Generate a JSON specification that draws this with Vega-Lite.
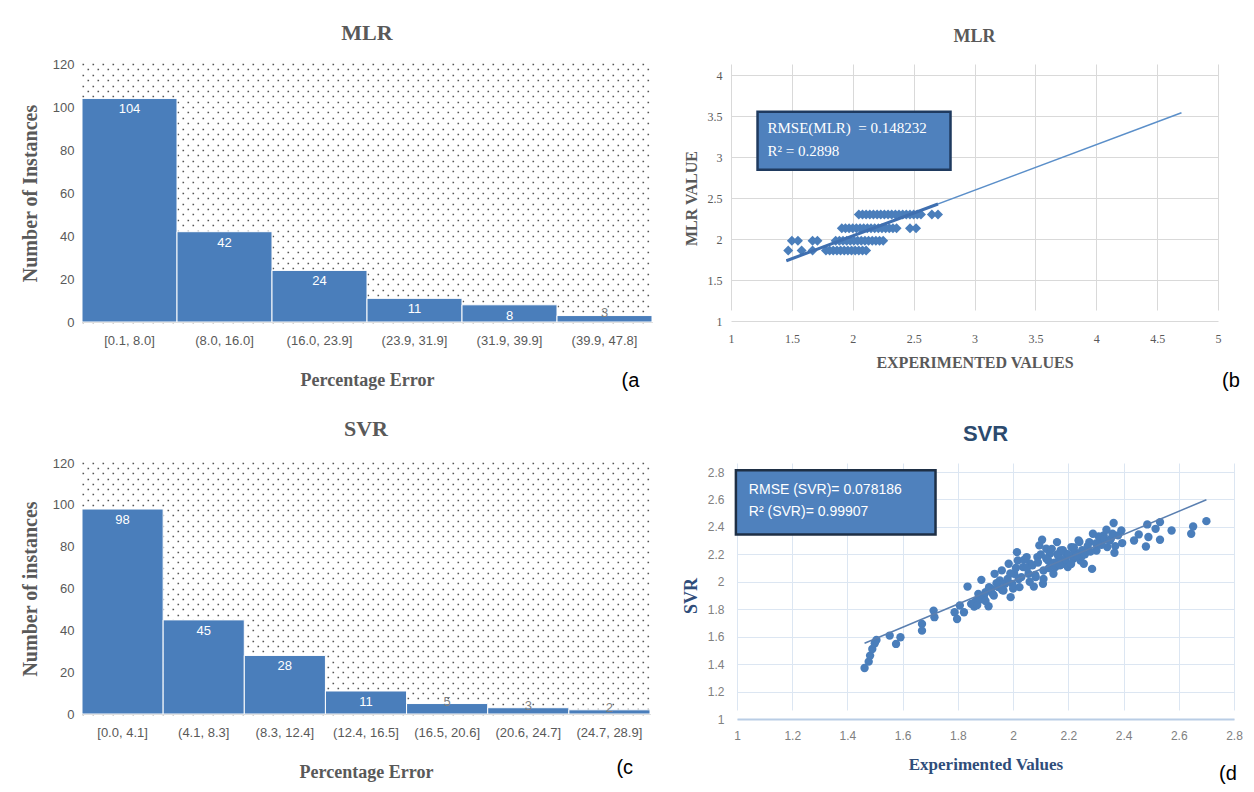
{
  "$schema": "https://vega.github.io/schema/vega-lite/v6.json",
  "padding": {"left": 20, "top": 22, "right": 0, "bottom": 0},
  "background": "white",
  "config": {"view": {"stroke": null}},
  "datasets": {
    "mlr_fit": [{"experimented": 1.455, "predicted": 1.735}, {"experimented": 4.70, "predicted": 3.54}],
    "svr_fit": [{"experimented": 1.462, "predicted": 1.552}, {"experimented": 2.70, "predicted": 2.598}]
  },
  "spacing": 26,
  "vconcat": [
    {
      "spacing": 30,
      "hconcat": [
        {
          "width": 570,
          "height": 258,
          "title": {"text": "MLR", "font": "Liberation Serif", "fontSize": 22, "fontWeight": "bold", "color": "#595959", "offset": 13},
          "data": {"values": [
            {"bin": "[0.1, 8.0]", "count": 104},
            {"bin": "(8.0, 16.0]", "count": 42},
            {"bin": "(16.0, 23.9]", "count": 24},
            {"bin": "(23.9, 31.9]", "count": 11},
            {"bin": "(31.9, 39.9]", "count": 8},
            {"bin": "(39.9, 47.8]", "count": 3}
          ]},
          "encoding": {
            "x": {"field": "bin", "type": "nominal", "sort": null,
              "scale": {"paddingInner": 0, "paddingOuter": 0},
              "axis": {"title": "Percentage Error", "labelAngle": 0, "labelFont": "Liberation Sans", "labelFontSize": 13, "labelColor": "#595959", "labelPadding": 12, "ticks": false, "domainColor": "#c0c0c0", "grid": false, "titleFont": "Liberation Serif", "titleFontSize": 18, "titleFontWeight": "bold", "titleColor": "#595959", "titlePadding": 24}},
            "y": {"field": "count", "type": "quantitative",
              "scale": {"domain": [0, 120], "nice": false},
              "axis": {"values": [0,2.5,5,7.5,10,12.5,15,17.5,20,22.5,25,27.5,30,32.5,35,37.5,40,42.5,45,47.5,50,52.5,55,57.5,60,62.5,65,67.5,70,72.5,75,77.5,80,82.5,85,87.5,90,92.5,95,97.5,100,102.5,105,107.5,110,112.5,115,117.5,120],
                "labelExpr": "datum.value % 20 === 0 ? datum.label : ''", "labelOverlap": false,
                "labelFont": "Liberation Sans", "labelFontSize": 13, "labelColor": "#595959", "labelPadding": 8,
                "ticks": false, "domain": false, "grid": true, "gridColor": "#555555", "gridWidth": 1.6, "gridDash": [1.6, 8.4],
                "gridDashOffset": {"condition": {"test": "datum.value % 5 === 0", "value": 0}, "value": 5},
                "title": "Number of Instances", "titleFont": "Liberation Serif", "titleFontSize": 20, "titleFontWeight": "bold", "titleColor": "#595959", "titlePadding": 12}}
          },
          "layer": [
            {"mark": {"type": "bar", "color": "#4a7ebb", "stroke": "white", "strokeWidth": 1}},
            {"transform": [{"filter": "datum.count >= 6"}],
             "mark": {"type": "text", "baseline": "top", "dy": 5, "color": "white", "font": "Liberation Sans", "fontSize": 13},
             "encoding": {"text": {"field": "count", "type": "quantitative"}}},
            {"transform": [{"filter": "datum.count < 6"}],
             "mark": {"type": "text", "baseline": "top", "dy": -9, "color": "#7f7f7f", "font": "Liberation Sans", "fontSize": 13},
             "encoding": {"text": {"field": "count", "type": "quantitative"}}},
            {"transform": [{"filter": "datum.count === 3"}],
             "mark": {"type": "text", "text": "(a", "align": "left", "baseline": "middle", "dx": 17, "font": "Liberation Sans", "fontSize": 20, "color": "#000000"},
             "encoding": {"y": {"datum": -27.5, "type": "quantitative"}}}
          ]
        },
        {
          "width": 487,
          "height": 257,
          "title": {"text": "MLR", "font": "Liberation Serif", "fontSize": 18, "fontWeight": "bold", "color": "#595959", "offset": 18},
          "encoding": {
            "x": {"field": "experimented", "type": "quantitative", "scale": {"domain": [1, 5], "nice": false, "zero": false},
              "axis": {"values": [1,1.5,2,2.5,3,3.5,4,4.5,5], "format": "~g", "title": "EXPERIMENTED VALUES", "grid": true, "gridColor": "#d9d9d9", "domain": false, "ticks": false, "labelFlush": false, "labelFont": "Liberation Serif", "labelFontSize": 12, "labelColor": "#595959", "labelPadding": 12, "titleFont": "Liberation Serif", "titleFontSize": 16, "titleFontWeight": "bold", "titleColor": "#595959", "titlePadding": 10}},
            "y": {"field": "predicted", "type": "quantitative", "scale": {"domain": [1, 4], "nice": false, "zero": false, "range": [257, 11]},
              "axis": {"values": [1,1.5,2,2.5,3,3.5,4], "format": "~g", "title": "MLR VALUE", "grid": true, "gridColor": "#d9d9d9", "domain": false, "ticks": false, "labelFont": "Liberation Serif", "labelFontSize": 12, "labelColor": "#595959", "labelPadding": 9, "titleFont": "Liberation Serif", "titleFontSize": 16, "titleFontWeight": "bold", "titleColor": "#595959", "titlePadding": 8}}
          },
          "layer": [
            {"data": {"values": [
              {"experimented": 2.05, "predicted": 2.30}, {"experimented": 2.08, "predicted": 2.30}, {"experimented": 2.11, "predicted": 2.30}, {"experimented": 2.14, "predicted": 2.30}, {"experimented": 2.17, "predicted": 2.30}, {"experimented": 2.20, "predicted": 2.30}, {"experimented": 2.23, "predicted": 2.30}, {"experimented": 2.26, "predicted": 2.30}, {"experimented": 2.29, "predicted": 2.30}, {"experimented": 2.32, "predicted": 2.30}, {"experimented": 2.35, "predicted": 2.30}, {"experimented": 2.38, "predicted": 2.30}, {"experimented": 2.41, "predicted": 2.30}, {"experimented": 2.44, "predicted": 2.30}, {"experimented": 2.47, "predicted": 2.30}, {"experimented": 2.50, "predicted": 2.30}, {"experimented": 2.53, "predicted": 2.30}, {"experimented": 2.56, "predicted": 2.30}, {"experimented": 2.65, "predicted": 2.30}, {"experimented": 2.70, "predicted": 2.30},
              {"experimented": 1.91, "predicted": 2.13}, {"experimented": 1.94, "predicted": 2.13}, {"experimented": 1.97, "predicted": 2.13}, {"experimented": 2.00, "predicted": 2.13}, {"experimented": 2.03, "predicted": 2.13}, {"experimented": 2.06, "predicted": 2.13}, {"experimented": 2.09, "predicted": 2.13}, {"experimented": 2.12, "predicted": 2.13}, {"experimented": 2.15, "predicted": 2.13}, {"experimented": 2.18, "predicted": 2.13}, {"experimented": 2.21, "predicted": 2.13}, {"experimented": 2.24, "predicted": 2.13}, {"experimented": 2.27, "predicted": 2.13}, {"experimented": 2.30, "predicted": 2.13}, {"experimented": 2.33, "predicted": 2.13}, {"experimented": 2.36, "predicted": 2.13}, {"experimented": 2.47, "predicted": 2.13}, {"experimented": 2.52, "predicted": 2.13},
              {"experimented": 1.50, "predicted": 1.98}, {"experimented": 1.55, "predicted": 1.98}, {"experimented": 1.67, "predicted": 1.98}, {"experimented": 1.71, "predicted": 1.98}, {"experimented": 1.86, "predicted": 1.98}, {"experimented": 1.89, "predicted": 1.98}, {"experimented": 1.92, "predicted": 1.98}, {"experimented": 1.95, "predicted": 1.98}, {"experimented": 1.98, "predicted": 1.98}, {"experimented": 2.01, "predicted": 1.98}, {"experimented": 2.04, "predicted": 1.98}, {"experimented": 2.07, "predicted": 1.98}, {"experimented": 2.10, "predicted": 1.98}, {"experimented": 2.13, "predicted": 1.98}, {"experimented": 2.16, "predicted": 1.98}, {"experimented": 2.19, "predicted": 1.98}, {"experimented": 2.22, "predicted": 1.98}, {"experimented": 2.25, "predicted": 1.98},
              {"experimented": 1.47, "predicted": 1.86}, {"experimented": 1.58, "predicted": 1.86}, {"experimented": 1.67, "predicted": 1.86}, {"experimented": 1.78, "predicted": 1.86}, {"experimented": 1.81, "predicted": 1.86}, {"experimented": 1.84, "predicted": 1.86}, {"experimented": 1.87, "predicted": 1.86}, {"experimented": 1.90, "predicted": 1.86}, {"experimented": 1.93, "predicted": 1.86}, {"experimented": 1.96, "predicted": 1.86}, {"experimented": 1.99, "predicted": 1.86}, {"experimented": 2.02, "predicted": 1.86}, {"experimented": 2.05, "predicted": 1.86}, {"experimented": 2.08, "predicted": 1.86}, {"experimented": 2.11, "predicted": 1.86}
             ]},
             "mark": {"type": "point", "shape": "diamond", "filled": true, "color": "#4a7ebb", "opacity": 1, "size": 100}},
            {"data": {"name": "mlr_fit"},
             "mark": {"type": "line", "color": "#5b8fc9", "strokeWidth": 1.5}},
            {"data": {"values": [{"experimented": 1.455, "predicted": 1.735}, {"experimented": 2.70, "predicted": 2.427}]},
             "mark": {"type": "line", "color": "#3f6fb0", "strokeWidth": 3}},
            {"data": {"name": "mlr_fit"}, "transform": [{"filter": "datum.experimented > 4"}],
             "mark": {"type": "rect", "fill": "#4f81bd", "stroke": "#1f3a5f", "strokeWidth": 2.5},
             "encoding": {"x": {"datum": 1.218}, "x2": {"datum": 2.803}, "y": {"datum": 3.551}, "y2": {"datum": 2.845}}},
            {"data": {"name": "mlr_fit"}, "transform": [{"filter": "datum.experimented > 4"}],
             "mark": {"type": "text", "text": "RMSE(MLR) \u00a0= 0.148232", "align": "left", "baseline": "middle", "color": "white", "font": "Liberation Serif", "fontSize": 15},
             "encoding": {"x": {"datum": 1.30}, "y": {"datum": 3.35}}},
            {"data": {"name": "mlr_fit"}, "transform": [{"filter": "datum.experimented > 4"}],
             "mark": {"type": "text", "text": "R² = 0.2898", "align": "left", "baseline": "middle", "color": "white", "font": "Liberation Serif", "fontSize": 15},
             "encoding": {"x": {"datum": 1.30}, "y": {"datum": 3.07}}},
            {"data": {"name": "mlr_fit"}, "transform": [{"filter": "datum.experimented > 4"}],
             "mark": {"type": "text", "text": "(b", "align": "left", "baseline": "middle", "dx": 4, "font": "Liberation Sans", "fontSize": 20, "color": "#000000"},
             "encoding": {"x": {"datum": 5}, "y": {"datum": 0.27}}}
          ]
        }
      ]
    },
    {
      "spacing": 31,
      "hconcat": [
        {
          "width": 568,
          "height": 251,
          "title": {"text": "SVR", "font": "Liberation Serif", "fontSize": 22, "fontWeight": "bold", "color": "#595959", "offset": 16},
          "data": {"values": [
            {"bin": "[0.0, 4.1]", "count": 98},
            {"bin": "(4.1, 8.3]", "count": 45},
            {"bin": "(8.3, 12.4]", "count": 28},
            {"bin": "(12.4, 16.5]", "count": 11},
            {"bin": "(16.5, 20.6]", "count": 5},
            {"bin": "(20.6, 24.7]", "count": 3},
            {"bin": "(24.7, 28.9]", "count": 2}
          ]},
          "encoding": {
            "x": {"field": "bin", "type": "nominal", "sort": null,
              "scale": {"paddingInner": 0, "paddingOuter": 0},
              "axis": {"title": "Percentage Error", "labelAngle": 0, "labelFont": "Liberation Sans", "labelFontSize": 13, "labelColor": "#595959", "labelPadding": 12, "ticks": false, "domainColor": "#c0c0c0", "grid": false, "titleFont": "Liberation Serif", "titleFontSize": 18, "titleFontWeight": "bold", "titleColor": "#595959", "titlePadding": 24}},
            "y": {"field": "count", "type": "quantitative",
              "scale": {"domain": [0, 120], "nice": false},
              "axis": {"values": [0,2.5,5,7.5,10,12.5,15,17.5,20,22.5,25,27.5,30,32.5,35,37.5,40,42.5,45,47.5,50,52.5,55,57.5,60,62.5,65,67.5,70,72.5,75,77.5,80,82.5,85,87.5,90,92.5,95,97.5,100,102.5,105,107.5,110,112.5,115,117.5,120],
                "labelExpr": "datum.value % 20 === 0 ? datum.label : ''", "labelOverlap": false,
                "labelFont": "Liberation Sans", "labelFontSize": 13, "labelColor": "#595959", "labelPadding": 8,
                "ticks": false, "domain": false, "grid": true, "gridColor": "#555555", "gridWidth": 1.6, "gridDash": [1.6, 8.4],
                "gridDashOffset": {"condition": {"test": "datum.value % 5 === 0", "value": 0}, "value": 5},
                "title": "Number of instances", "titleFont": "Liberation Serif", "titleFontSize": 20, "titleFontWeight": "bold", "titleColor": "#595959", "titlePadding": 12}}
          },
          "layer": [
            {"mark": {"type": "bar", "color": "#4a7ebb", "stroke": "white", "strokeWidth": 1}},
            {"transform": [{"filter": "datum.count >= 6"}],
             "mark": {"type": "text", "baseline": "top", "dy": 5, "color": "white", "font": "Liberation Sans", "fontSize": 13},
             "encoding": {"text": {"field": "count", "type": "quantitative"}}},
            {"transform": [{"filter": "datum.count < 6"}],
             "mark": {"type": "text", "baseline": "top", "dy": -8, "color": "#7f7f7f", "font": "Liberation Sans", "fontSize": 13},
             "encoding": {"text": {"field": "count", "type": "quantitative"}}},
            {"transform": [{"filter": "datum.count === 2"}],
             "mark": {"type": "text", "text": "(c", "align": "left", "baseline": "middle", "dx": 7, "font": "Liberation Sans", "fontSize": 20, "color": "#000000"},
             "encoding": {"y": {"datum": -26, "type": "quantitative"}}}
          ]
        },
        {
          "width": 497,
          "height": 256,
          "title": {"text": "SVR", "font": "Liberation Sans", "fontSize": 22, "fontWeight": "bold", "color": "#2c4a6e", "offset": 17},
          "encoding": {
            "x": {"field": "experimented", "type": "quantitative", "scale": {"domain": [1, 2.8], "nice": false, "zero": false},
              "axis": {"values": [1,1.2,1.4,1.6,1.8,2,2.2,2.4,2.6,2.8], "format": "~g", "title": "Experimented Values", "grid": true, "gridColor": "#dce6f2", "domain": true, "domainColor": "#b9cde5", "domainWidth": 2, "ticks": false, "labelFlush": false, "labelFont": "Liberation Sans", "labelFontSize": 12, "labelColor": "#808080", "labelPadding": 11, "titleFont": "Liberation Serif", "titleFontSize": 17, "titleFontWeight": "bold", "titleColor": "#2f4d7a", "titlePadding": 15}},
            "y": {"field": "predicted", "type": "quantitative", "scale": {"domain": [1, 2.8], "nice": false, "zero": false, "range": [256, 9]},
              "axis": {"values": [1,1.2,1.4,1.6,1.8,2,2.2,2.4,2.6,2.8], "format": "~g", "title": "SVR", "grid": true, "gridColor": "#dce6f2", "domain": false, "ticks": false, "labelFont": "Liberation Sans", "labelFontSize": 12, "labelColor": "#808080", "labelPadding": 13, "titleFont": "Liberation Serif", "titleFontSize": 18, "titleFontWeight": "bold", "titleColor": "#2f4d7a", "titlePadding": 7}}
          },
          "layer": [
            {"data": {"values": [
              {"experimented": 1.462, "predicted": 1.372}, {"experimented": 1.477, "predicted": 1.418}, {"experimented": 1.482, "predicted": 1.462}, {"experimented": 1.49, "predicted": 1.51}, {"experimented": 1.499, "predicted": 1.552}, {"experimented": 1.505, "predicted": 1.576},
              {"experimented": 1.553, "predicted": 1.608}, {"experimented": 1.576, "predicted": 1.547}, {"experimented": 1.592, "predicted": 1.596}, {"experimented": 1.67, "predicted": 1.693}, {"experimented": 1.67, "predicted": 1.644}, {"experimented": 1.712, "predicted": 1.79},
              {"experimented": 1.715, "predicted": 1.742}, {"experimented": 1.788, "predicted": 1.778}, {"experimented": 1.797, "predicted": 1.729}, {"experimented": 1.807, "predicted": 1.827}, {"experimented": 1.822, "predicted": 1.778}, {"experimented": 1.835, "predicted": 1.965},
              {"experimented": 1.848, "predicted": 1.839}, {"experimented": 1.859, "predicted": 1.82}, {"experimented": 1.868, "predicted": 1.863}, {"experimented": 1.874, "predicted": 1.912}, {"experimented": 1.885, "predicted": 2.014}, {"experimented": 1.894, "predicted": 1.888},
              {"experimented": 1.9, "predicted": 1.924}, {"experimented": 1.911, "predicted": 1.822}, {"experimented": 1.913, "predicted": 1.961}, {"experimented": 1.926, "predicted": 1.912}, {"experimented": 1.933, "predicted": 2.058}, {"experimented": 1.946, "predicted": 1.961},
              {"experimented": 1.952, "predicted": 2.009}, {"experimented": 1.959, "predicted": 2.083}, {"experimented": 1.965, "predicted": 1.936}, {"experimented": 1.971, "predicted": 1.985}, {"experimented": 1.984, "predicted": 2.131}, {"experimented": 1.991, "predicted": 1.888},
              {"experimented": 1.997, "predicted": 1.985}, {"experimented": 2.004, "predicted": 2.058}, {"experimented": 2.014, "predicted": 2.216}, {"experimented": 2.017, "predicted": 2.155}, {"experimented": 2.023, "predicted": 1.961}, {"experimented": 2.03, "predicted": 2.034},
              {"experimented": 2.036, "predicted": 2.107}, {"experimented": 2.049, "predicted": 2.18}, {"experimented": 2.056, "predicted": 2.058}, {"experimented": 2.062, "predicted": 2.131}, {"experimented": 2.075, "predicted": 1.965}, {"experimented": 2.082, "predicted": 2.034},
              {"experimented": 2.088, "predicted": 2.18}, {"experimented": 2.095, "predicted": 2.265}, {"experimented": 2.105, "predicted": 2.306}, {"experimented": 2.108, "predicted": 1.985}, {"experimented": 2.11, "predicted": 2.082}, {"experimented": 2.12, "predicted": 2.241},
              {"experimented": 2.127, "predicted": 2.155}, {"experimented": 2.133, "predicted": 2.204}, {"experimented": 2.146, "predicted": 2.058}, {"experimented": 2.153, "predicted": 2.107}, {"experimented": 2.159, "predicted": 2.289}, {"experimented": 2.166, "predicted": 2.18},
              {"experimented": 2.172, "predicted": 2.228}, {"experimented": 2.183, "predicted": 2.131}, {"experimented": 2.192, "predicted": 2.204}, {"experimented": 2.198, "predicted": 2.107}, {"experimented": 2.211, "predicted": 2.253}, {"experimented": 2.218, "predicted": 2.168},
              {"experimented": 2.224, "predicted": 2.216}, {"experimented": 2.237, "predicted": 2.301}, {"experimented": 2.244, "predicted": 2.155}, {"experimented": 2.25, "predicted": 2.192}, {"experimented": 2.256, "predicted": 2.131}, {"experimented": 2.276, "predicted": 2.289},
              {"experimented": 2.286, "predicted": 2.094}, {"experimented": 2.289, "predicted": 2.35}, {"experimented": 2.302, "predicted": 2.228}, {"experimented": 2.315, "predicted": 2.301}, {"experimented": 2.328, "predicted": 2.338}, {"experimented": 2.338, "predicted": 2.379},
              {"experimented": 2.341, "predicted": 2.253}, {"experimented": 2.354, "predicted": 2.313}, {"experimented": 2.364, "predicted": 2.428}, {"experimented": 2.367, "predicted": 2.211}, {"experimented": 2.38, "predicted": 2.338}, {"experimented": 2.392, "predicted": 2.374},
              {"experimented": 2.395, "predicted": 2.282}, {"experimented": 2.438, "predicted": 2.301}, {"experimented": 2.455, "predicted": 2.345}, {"experimented": 2.481, "predicted": 2.257}, {"experimented": 2.486, "predicted": 2.418}, {"experimented": 2.49, "predicted": 2.326},
              {"experimented": 2.516, "predicted": 2.386}, {"experimented": 2.532, "predicted": 2.435}, {"experimented": 2.532, "predicted": 2.306}, {"experimented": 2.574, "predicted": 2.374}, {"experimented": 2.645, "predicted": 2.35}, {"experimented": 2.652, "predicted": 2.403},
              {"experimented": 2.7, "predicted": 2.442},
              {"experimented": 1.86, "predicted": 1.85}, {"experimented": 1.87, "predicted": 1.83}, {"experimented": 1.88, "predicted": 1.87}, {"experimented": 1.9, "predicted": 1.86}, {"experimented": 1.92, "predicted": 1.95}, {"experimented": 1.93, "predicted": 1.9},
              {"experimented": 1.94, "predicted": 1.99}, {"experimented": 1.96, "predicted": 1.94}, {"experimented": 1.98, "predicted": 2.02}, {"experimented": 1.99, "predicted": 2.06}, {"experimented": 2.0, "predicted": 1.95}, {"experimented": 2.01, "predicted": 2.1},
              {"experimented": 2.02, "predicted": 2.02}, {"experimented": 2.04, "predicted": 2.16}, {"experimented": 2.05, "predicted": 2.1}, {"experimented": 2.06, "predicted": 2.0}, {"experimented": 2.07, "predicted": 2.12}, {"experimented": 2.08, "predicted": 2.05},
              {"experimented": 2.09, "predicted": 2.14}, {"experimented": 2.1, "predicted": 2.2}, {"experimented": 2.11, "predicted": 2.02}, {"experimented": 2.12, "predicted": 2.17}, {"experimented": 2.13, "predicted": 2.1}, {"experimented": 2.14, "predicted": 2.24},
              {"experimented": 2.15, "predicted": 2.14}, {"experimented": 2.16, "predicted": 2.2}, {"experimented": 2.17, "predicted": 2.12}, {"experimented": 2.18, "predicted": 2.23}, {"experimented": 2.19, "predicted": 2.16}, {"experimented": 2.2, "predicted": 2.2},
              {"experimented": 2.21, "predicted": 2.13}, {"experimented": 2.22, "predicted": 2.25}, {"experimented": 2.23, "predicted": 2.19}, {"experimented": 2.24, "predicted": 2.29}, {"experimented": 2.25, "predicted": 2.23}, {"experimented": 2.26, "predicted": 2.2},
              {"experimented": 2.27, "predicted": 2.26}, {"experimented": 2.28, "predicted": 2.22}, {"experimented": 2.3, "predicted": 2.28}, {"experimented": 2.31, "predicted": 2.33}, {"experimented": 2.32, "predicted": 2.27}, {"experimented": 2.33, "predicted": 2.31},
              {"experimented": 2.35, "predicted": 2.3}, {"experimented": 2.36, "predicted": 2.35}, {"experimented": 2.37, "predicted": 2.26}
             ]},
             "mark": {"type": "circle", "color": "#4a7ebb", "opacity": 1, "size": 70}},
            {"data": {"name": "svr_fit"},
             "mark": {"type": "line", "color": "#5a7fb0", "strokeWidth": 1.5}},
            {"data": {"name": "svr_fit"}, "transform": [{"filter": "datum.experimented > 2.5"}],
             "mark": {"type": "rect", "fill": "#4f81bd", "stroke": "#1e2f45", "strokeWidth": 2.5},
             "encoding": {"x": {"datum": 0.996}, "x2": {"datum": 1.719}, "y": {"datum": 2.812}, "y2": {"datum": 2.345}}},
            {"data": {"name": "svr_fit"}, "transform": [{"filter": "datum.experimented > 2.5"}],
             "mark": {"type": "text", "text": "RMSE (SVR)= 0.078186", "align": "left", "baseline": "middle", "color": "white", "font": "Liberation Sans", "fontSize": 14},
             "encoding": {"x": {"datum": 1.043}, "y": {"datum": 2.671}}},
            {"data": {"name": "svr_fit"}, "transform": [{"filter": "datum.experimented > 2.5"}],
             "mark": {"type": "text", "text": "R² (SVR)= 0.99907", "align": "left", "baseline": "middle", "color": "white", "font": "Liberation Sans", "fontSize": 14},
             "encoding": {"x": {"datum": 1.043}, "y": {"datum": 2.508}}},
            {"data": {"name": "svr_fit"}, "transform": [{"filter": "datum.experimented > 2.5"}],
             "mark": {"type": "text", "text": "(d", "align": "left", "baseline": "middle", "font": "Liberation Sans", "fontSize": 20, "color": "#000000"},
             "encoding": {"x": {"datum": 2.746}, "y": {"datum": 0.6}}}
          ]
        }
      ]
    }
  ]
}
